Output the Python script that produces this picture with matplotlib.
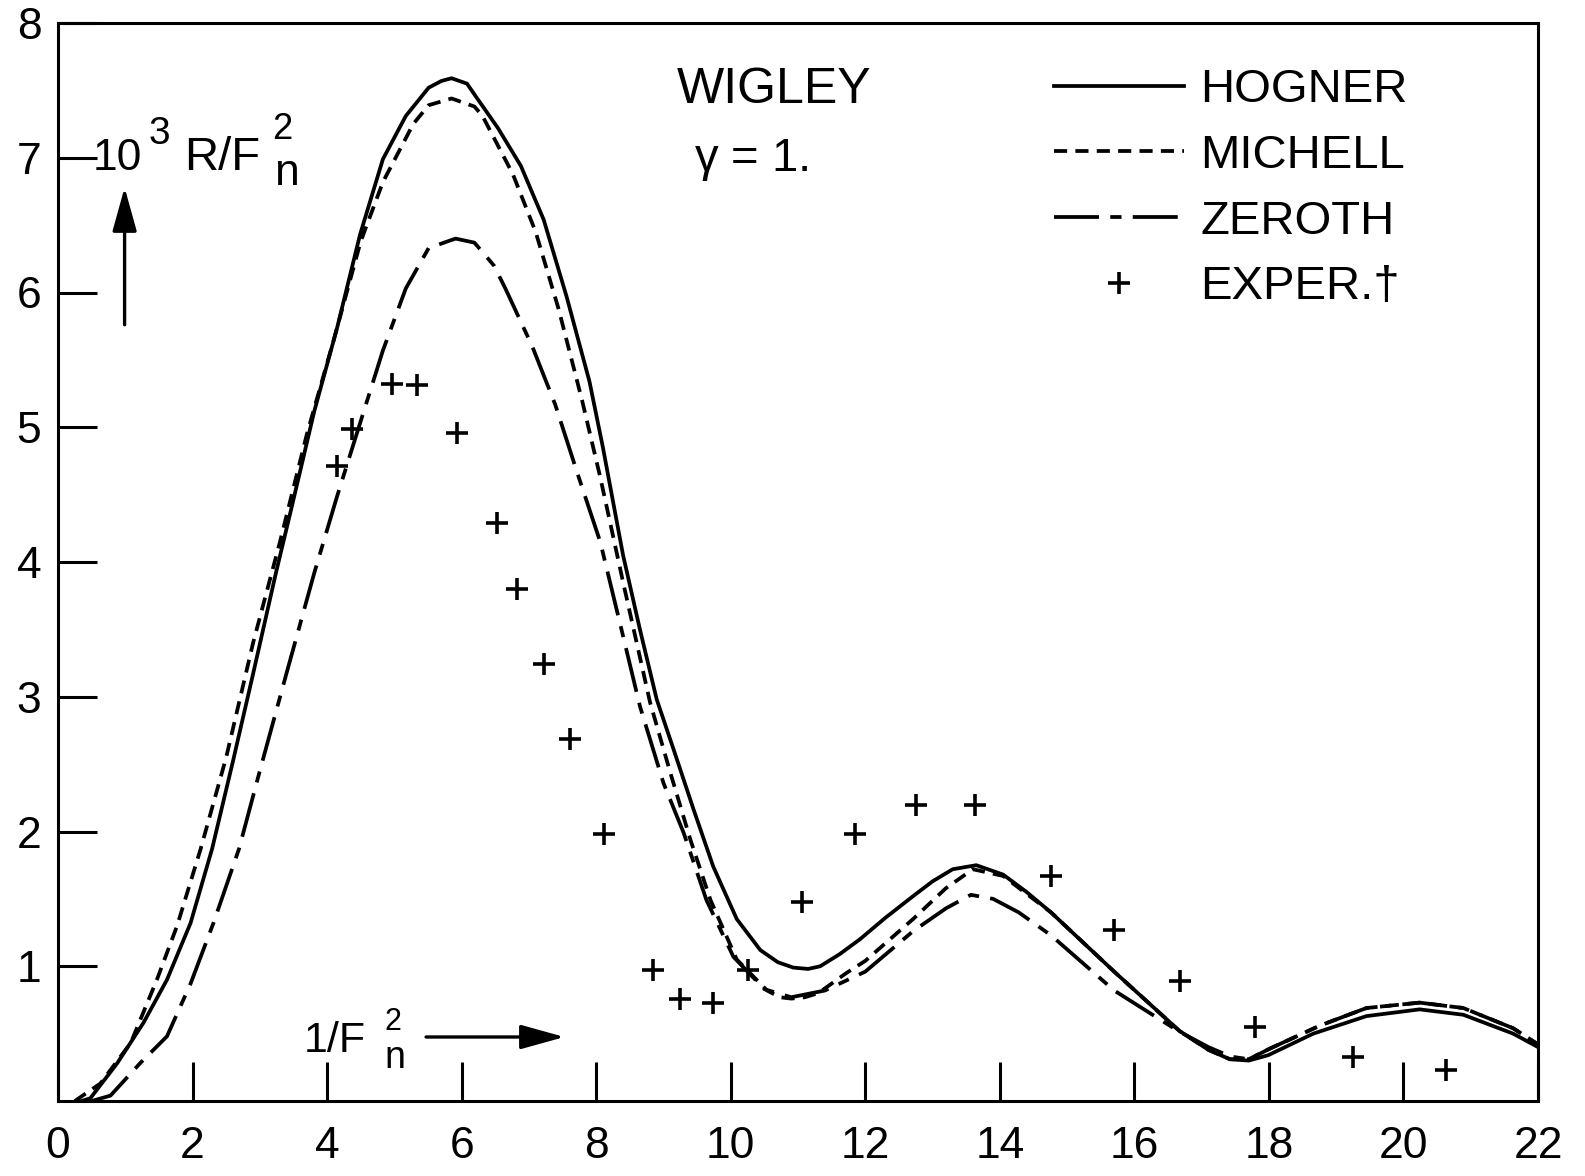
import matplotlib.pyplot as plt

plt.rcParams['font.family'] = ['Liberation Sans', 'DejaVu Sans']
plt.rcParams['mathtext.default'] = 'regular'

# curves (x = 1/Fn^2, y = 10^3 R/Fn^2)
hogner_x = [0.35, 0.48, 0.88, 1.27, 1.62, 1.97, 2.29, 2.6, 2.9, 3.24,
            3.47, 3.81, 4.15, 4.49, 4.83, 5.17, 5.51, 5.7, 5.85, 6.08,
            6.19, 6.54, 6.88, 7.22, 7.56, 7.9, 8.1, 8.4, 8.65, 8.9,
            9.15, 9.45, 9.74, 10.09, 10.44, 10.7, 10.93, 11.15, 11.33, 11.62,
            11.92, 12.3, 12.71, 13.0, 13.3, 13.65, 14.05, 14.4, 14.76, 15.7,
            16.67, 17.1, 17.42, 17.7, 17.99, 18.66, 19.45, 20.24, 20.89, 21.63,
            22.0]
hogner_y = [0.0, 0.02, 0.28, 0.58, 0.9, 1.32, 1.87, 2.52, 3.17, 3.92,
            4.4, 5.12, 5.74, 6.43, 6.99, 7.31, 7.52, 7.57, 7.59, 7.55,
            7.47, 7.22, 6.94, 6.54, 5.97, 5.34, 4.85, 4.05, 3.5, 2.98,
            2.61, 2.16, 1.74, 1.35, 1.12, 1.03, 0.99, 0.98, 1.0, 1.09,
            1.2, 1.36, 1.52, 1.63, 1.72, 1.75, 1.68, 1.55, 1.40, 0.96,
            0.52, 0.38, 0.31, 0.30, 0.34, 0.5, 0.63, 0.68, 0.64, 0.5,
            0.4]

michell_x = [0.25, 0.63, 1.08, 1.47, 1.77, 2.12, 2.5, 2.9, 3.3, 3.7,
             4.1, 4.5, 4.83, 5.28, 5.51, 5.85, 6.19, 6.31, 6.76, 7.1,
             7.44, 7.79, 8.06, 8.4, 8.8, 9.1, 9.4, 9.7, 10.09, 10.54,
             10.73, 10.9, 11.1, 11.3, 11.72, 12.0, 12.71, 13.2, 13.6, 14.05,
             14.76, 15.7, 16.67, 17.1, 17.42, 17.7, 18.02, 18.76, 19.45, 20.24,
             20.89, 21.63, 22.0]
michell_y = [0.0, 0.13, 0.43, 0.9, 1.3, 1.87, 2.55, 3.4, 4.15, 4.95,
             5.65, 6.38, 6.82, 7.25, 7.39, 7.44, 7.38, 7.31, 6.88, 6.45,
             5.88, 5.2, 4.63, 3.85, 2.96, 2.44, 1.94, 1.49, 1.05, 0.82,
             0.77, 0.76, 0.77, 0.8, 0.95, 1.04, 1.35, 1.58, 1.72, 1.67,
             1.4, 0.96, 0.52, 0.38, 0.31, 0.31, 0.39, 0.56, 0.69, 0.73,
             0.69, 0.54, 0.42]

zeroth_x = [0.5, 0.78, 1.22, 1.62, 1.97, 2.31, 2.69, 3.0, 3.4, 3.81,
            4.15, 4.49, 4.83, 5.17, 5.51, 5.91, 6.19, 6.48, 6.65, 7.05,
            7.39, 7.72, 8.06, 8.4, 8.65, 9.0, 9.3, 9.64, 10.04, 10.5,
            10.9, 11.4, 12.0, 12.71, 13.2, 13.57, 13.9, 14.28, 14.76, 15.7,
            16.65, 17.1, 17.43, 17.7, 18.02, 18.76, 19.45, 20.24, 20.89, 21.63,
            22.0]
zeroth_y = [0.0, 0.04, 0.28, 0.48, 0.87, 1.32, 1.87, 2.45, 3.18, 3.92,
            4.49, 5.03, 5.57, 6.03, 6.33, 6.4, 6.37, 6.2, 6.03, 5.6,
            5.17, 4.66, 4.15, 3.45, 2.93, 2.36, 1.99, 1.49, 1.07, 0.83,
            0.77, 0.82, 0.96, 1.26, 1.43, 1.53, 1.5, 1.4, 1.23, 0.82,
            0.52, 0.4, 0.33, 0.31, 0.39, 0.56, 0.69, 0.73, 0.69, 0.54,
            0.42]

exper_x = [4.14, 4.37, 4.97, 5.33, 5.93, 6.53, 6.83, 7.22, 7.61, 8.11,
           8.84, 9.24, 9.74, 10.26, 11.06, 11.84, 12.76, 13.63, 14.76, 15.69,
           16.68, 17.79, 19.25, 20.63]
exper_y = [4.71, 4.99, 5.32, 5.31, 4.96, 4.29, 3.8, 3.24, 2.69, 1.98,
           0.97, 0.76, 0.73, 0.97, 1.48, 1.98, 2.2, 2.2, 1.67, 1.27,
           0.89, 0.55, 0.33, 0.23]

x_ticks = list(range(0, 23, 2))
y_ticks = list(range(1, 9))

LW = 2.7
ARROW = dict(arrowstyle='-|>,head_length=0.9,head_width=0.25',
             lw=2.4, color='black', mutation_scale=30)

fig = plt.figure(figsize=(15.85, 11.76), dpi=100)
ax = fig.add_axes([58 / 1585, 1 - 1101 / 1176, 1480 / 1585, 1078 / 1176])

ax.plot(hogner_x, hogner_y, color='black', lw=LW, label='HOGNER')
ax.plot(michell_x, michell_y, color='black', lw=LW, dashes=(3.5, 2.2), label='MICHELL')
ax.plot(zeroth_x, zeroth_y, color='black', lw=LW, dashes=(12, 3, 3, 3), label='ZEROTH')
ax.plot(exper_x, exper_y, linestyle='none', marker='+', ms=16, mew=2.6,
        color='black', label='EXPER.\u2020')

ax.set_xlim(0, 22)
ax.set_ylim(0, 8)
ax.set_xticks(x_ticks)
ax.set_yticks(y_ticks)
ax.tick_params(direction='in', length=28, width=2.2, labelsize=32)
ax.tick_params(axis='x', pad=18)
ax.tick_params(axis='y', pad=12)
for s in ax.spines.values():
    s.set_linewidth(2.2)

ax.legend(loc='upper left', bbox_to_anchor=(0.673, 0.958), frameon=False,
          fontsize=34, handlelength=2.75, handletextpad=0.35,
          labelspacing=0.46, borderpad=0, borderaxespad=0)

ax.text(9.2, 7.5, 'WIGLEY', fontsize=36, va='center', ha='left')
ax.text(9.45, 6.98, r'$\gamma$ = 1.', fontsize=34, va='center', ha='left')

# axis captions drawn inside the frame, pieces placed on their baselines
ax.text(0.51, 6.91, '10', fontsize=32, va='baseline', ha='left')
ax.text(1.34, 7.10, '3', fontsize=28, va='baseline', ha='left')
ax.text(1.88, 6.91, 'R/F', fontsize=34, va='baseline', ha='left')
ax.text(3.19, 7.14, '2', fontsize=26, va='baseline', ha='left')
ax.text(3.22, 6.80, 'n', fontsize=32, va='baseline', ha='left')
ax.annotate('', xy=(0.99, 6.8), xytext=(0.99, 5.74), arrowprops=ARROW)

ax.text(3.66, 0.363, '1/F', fontsize=31, va='baseline', ha='left')
ax.text(4.86, 0.527, '2', fontsize=22, va='baseline', ha='left')
ax.text(4.86, 0.244, 'n', fontsize=27, va='baseline', ha='left')
ax.annotate('', xy=(7.57, 0.475), xytext=(5.43, 0.475), arrowprops=ARROW)

fig.savefig('out.png', dpi=100)
